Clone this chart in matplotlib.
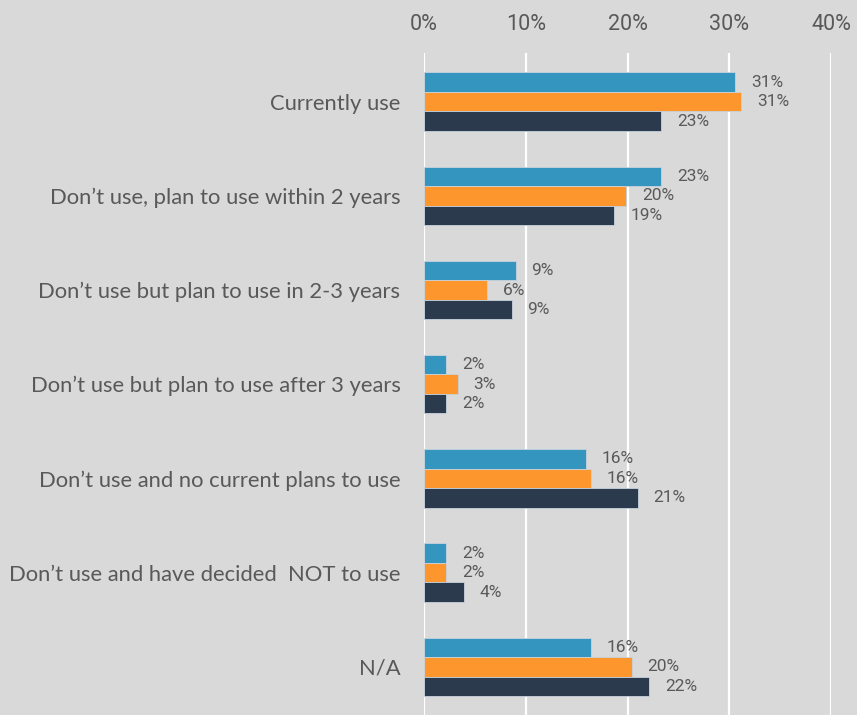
import matplotlib
matplotlib.use("Agg")
import matplotlib.pyplot as plt
import numpy as np
from matplotlib.ticker import FuncFormatter

categories = [
    "Currently use",
    "Don\u2019t use, plan to use within 2 years",
    "Don\u2019t use but plan to use in 2-3 years",
    "Don\u2019t use but plan to use after 3 years",
    "Don\u2019t use and no current plans to use",
    "Don\u2019t use and have decided  NOT to use",
    "N/A",
]
series_a = [30.6, 23.3, 9.0, 2.2, 15.9, 2.2, 16.4]
series_b = [31.2, 19.9, 6.2, 3.3, 16.4, 2.2, 20.4]
series_c = [23.3, 18.7, 8.6, 2.2, 21.0, 3.9, 22.1]
x_ticks = [0, 10, 20, 30, 40]

colors = ["#3496BE", "#FD962D", "#2C3A4E"]
bg = "#D9D9D9"
text_color = "#595959"

fig = plt.figure(figsize=(8.57, 7.15), dpi=100, facecolor=bg)
ax = fig.add_axes([424 / 857, 0, (831 - 424) / 857, 662 / 715])
ax.set_facecolor(bg)

y = np.arange(len(categories))
h = 0.207
for i, (vals, col) in enumerate(zip([series_a, series_b, series_c], colors)):
    pos = y + (i - 1) * h
    ax.barh(pos, vals, height=h, color=col, edgecolor="#c8d2dc", linewidth=0.6, zorder=3)
    for p, v in zip(pos, vals):
        ax.annotate(f"{int(v + 0.5)}%", xy=(v, p), xytext=(16, 0),
                    textcoords="offset pixels", ha="left", va="center",
                    fontsize=12.5, color=text_color, family="Roboto", zorder=4)

ax.set_xlim(0, 40)
ax.set_ylim(len(categories) - 1 + 0.51, -0.515)
ax.set_xticks(x_ticks)
ax.xaxis.set_major_formatter(FuncFormatter(lambda v, _: f"{v:.0f}%"))
ax.xaxis.tick_top()
ax.tick_params(axis="x", length=0, pad=13, labelsize=15.5, labelcolor=text_color)
for lbl in ax.get_xticklabels():
    lbl.set_family("Roboto")
ax.set_yticks(y)
ax.set_yticklabels(categories)
ax.tick_params(axis="y", length=0, pad=17, labelsize=15.8, labelcolor=text_color)
for lbl in ax.get_yticklabels():
    lbl.set_family("Lato")

ax.grid(axis="x", color="white", linewidth=1.6, zorder=0)
for s in ax.spines.values():
    s.set_visible(False)

fig.savefig("out.png", dpi=100, facecolor=bg)
